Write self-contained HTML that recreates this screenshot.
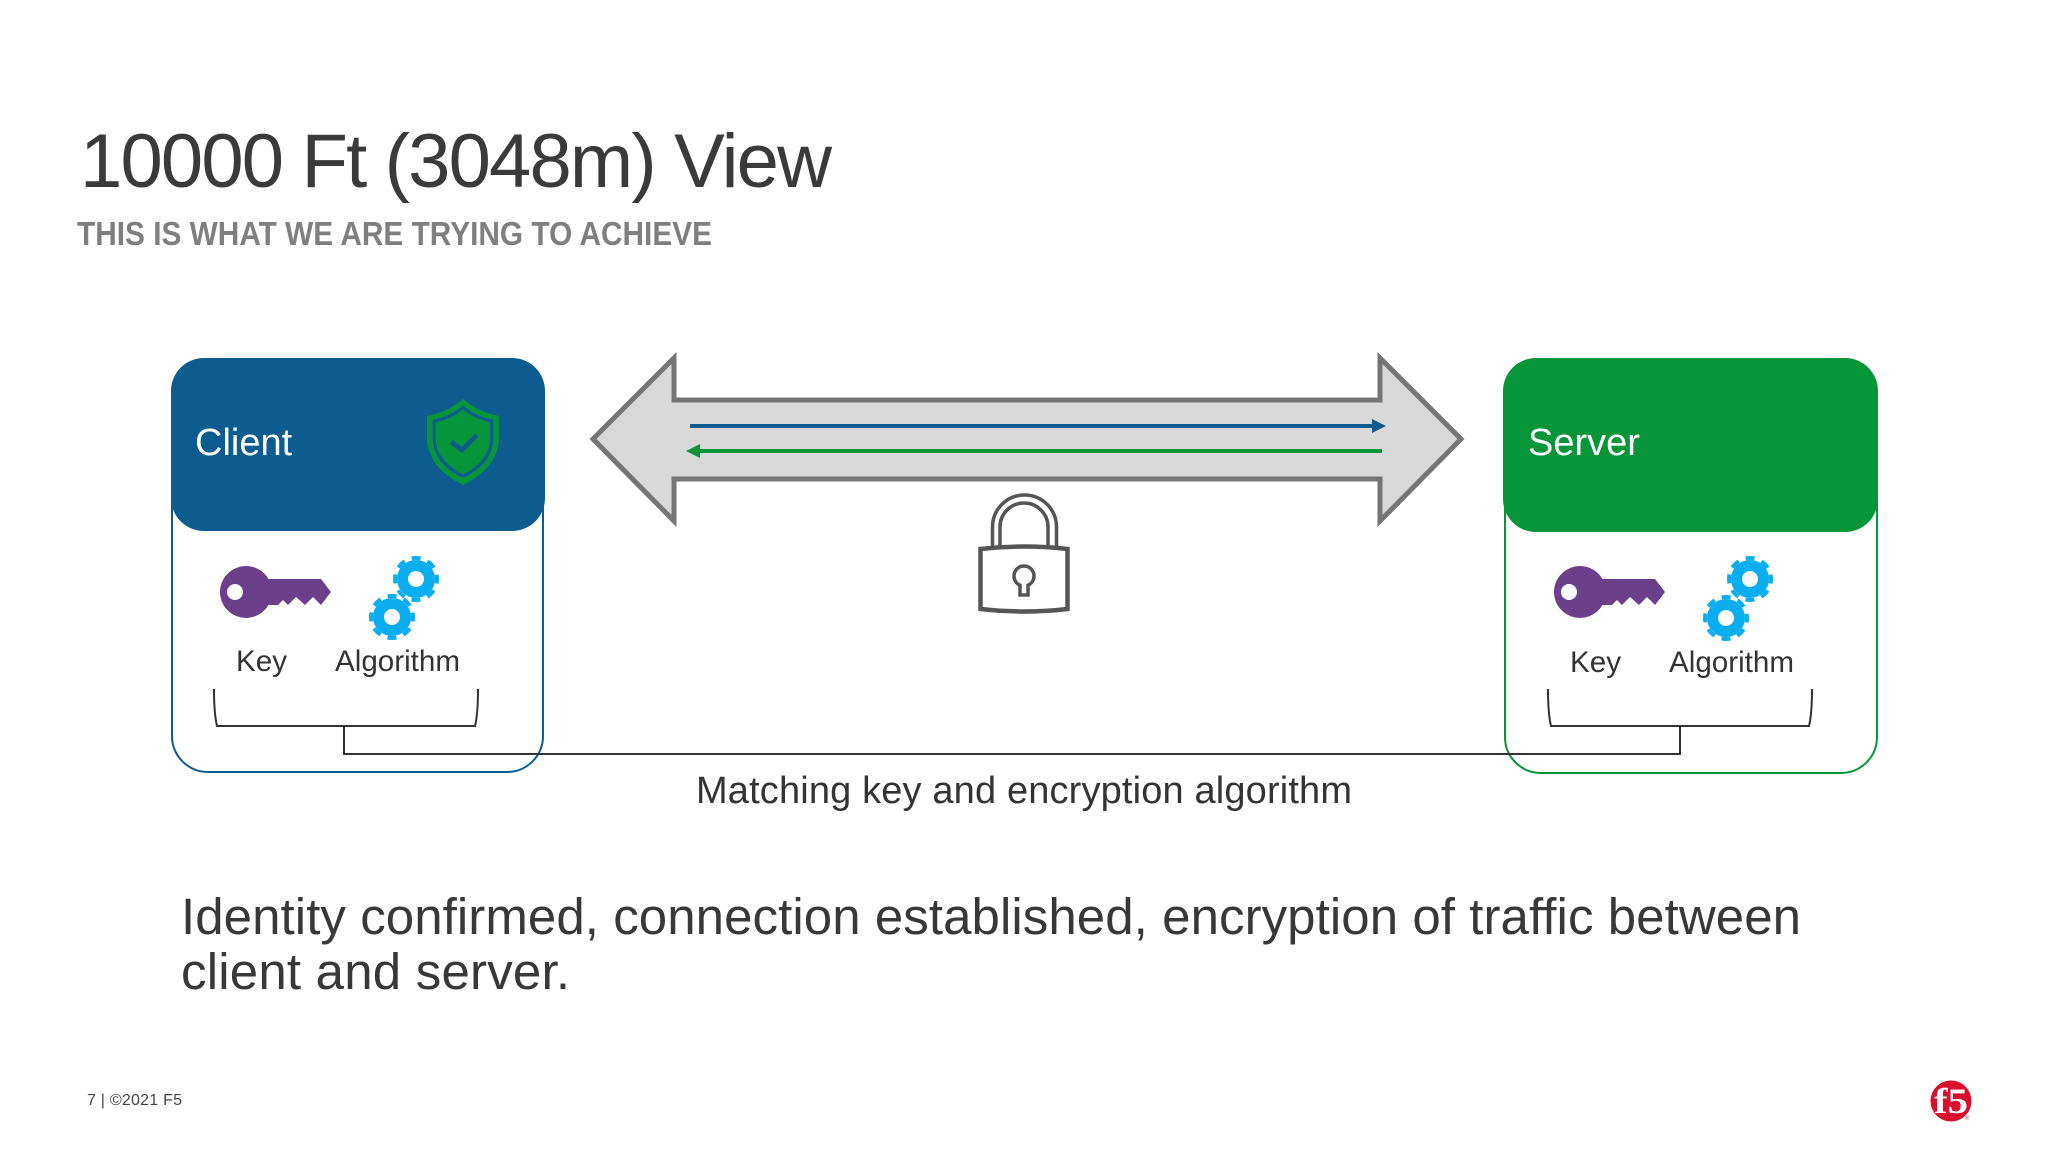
<!DOCTYPE html>
<html lang="en">
<head>
<meta charset="utf-8">
<title>10000 Ft (3048m) View</title>
<style>
html,body{margin:0;padding:0;background:#fff;width:2048px;height:1152px;overflow:hidden}
svg{display:block}
text{font-family:"Liberation Sans",Arial,sans-serif}
</style>
</head>
<body>
<svg xmlns="http://www.w3.org/2000/svg" width="2048" height="1152" viewBox="0 0 2048 1152">
<defs>
  <g id="gear">
    <circle r="13.500" fill="none" stroke="#0aaef0" stroke-width="11"/>
    <circle r="21" fill="none" stroke="#0aaef0" stroke-width="4" stroke-dasharray="9 7.490" stroke-dashoffset="4.500"/>
  </g>
  <g id="key">
    <path fill="#6b3f8a" fill-rule="evenodd" d="M246 566a26 26 0 0 1 22.500 13H321L331 592 321 605 313 597 305 605 296 597 288 605 283 600 278 605H268.500A26 26 0 1 1 246 566ZM235 584a8 8 0 1 0 0 16 8 8 0 0 0 0-16Z"/>
  </g>
  <path id="bracket" d="M214 689C214 705 215 718 217 726H475C477 718 478 705 478 689" fill="none" stroke="#333" stroke-width="2"/>
</defs>

<rect width="2048" height="1152" fill="#fff"/>

<!-- Title -->
<text x="80" y="187" font-size="76" fill="#3a3a3a" textLength="752" lengthAdjust="spacing">10000 Ft (3048m) View</text>
<text x="77" y="245" font-size="33" font-weight="700" fill="#7f7f7f" textLength="635" lengthAdjust="spacingAndGlyphs">THIS IS WHAT WE ARE TRYING TO ACHIEVE</text>

<!-- Client box -->
<rect x="172" y="400" width="371" height="372" rx="36" fill="#fff" stroke="#0c5c8f" stroke-width="2"/>
<rect x="171" y="358" width="374" height="173" rx="33" fill="#0c5c8f"/>
<text x="195" y="455" font-size="38" fill="#fff">Client</text>
<path d="M463 399Q478 412 499 416V440Q497 468 463 485Q429 468 427 440V416Q448 412 463 399Z" fill="#07953a"/>
<path transform="translate(463 441) scale(.8) translate(-463 -441)" d="M463 399Q478 412 499 416V440Q497 468 463 485Q429 468 427 440V416Q448 412 463 399Z" fill="#07953a" stroke="#0c5c8f" stroke-width="4"/>
<path d="M451 442L462 450 477 435" fill="none" stroke="#0c5c8f" stroke-width="4.500"/>
<use href="#key"/>
<use href="#gear" x="416" y="579"/>
<use href="#gear" x="392" y="617"/>
<text x="236" y="671" font-size="29.600" fill="#333">Key</text>
<text x="335" y="671" font-size="29.600" fill="#333">Algorithm</text>
<use href="#bracket"/>

<!-- Server box -->
<rect x="1510" y="400" width="372" height="373" rx="36" fill="#fff" stroke="#07953a" stroke-width="2" transform="translate(-5 0)"/>
<rect x="1503" y="358" width="375" height="174" rx="33" fill="#07953a"/>
<text x="1528" y="455" font-size="38" fill="#fff">Server</text>
<g transform="translate(1334 0)">
  <use href="#key"/>
  <use href="#gear" x="416" y="579"/>
  <use href="#gear" x="392" y="618"/>
  <text x="236" y="672" font-size="29.600" fill="#333">Key</text>
  <text x="335" y="672" font-size="29.600" fill="#333">Algorithm</text>
  <use href="#bracket"/>
</g>

<!-- Connector -->
<path d="M344 726V754H1680V726" fill="none" stroke="#333" stroke-width="2"/>

<!-- Double arrow -->
<path d="M593 439L674 358V400H1380V358L1461 439L1380 521V479H674V521Z" fill="#d9d9d9" stroke="#757575" stroke-width="5"/>
<rect x="690" y="424" width="682" height="4" fill="#0c5c8f"/>
<path d="M1372 419L1386 426 1372 433Z" fill="#0c5c8f"/>
<rect x="698" y="449" width="684" height="4" fill="#07953a"/>
<path d="M700 444L686 451 700 458Z" fill="#07953a"/>

<!-- Lock -->
<g fill="none" stroke="#555" stroke-width="3.500">
  <path d="M992.500 547V527A32 32 0 0 1 1056.500 527V547"/>
  <path d="M1000 547V527A24 24 0 0 1 1048 527V547"/>
  <path d="M980.500 549Q1024 544 1067.500 549V609Q1024 614 980.500 609Z" fill="#fff" stroke-width="4.500"/>
  <path d="M1020 585.200A10 10 0 1 1 1028 585.200V595H1020Z" fill="#fff"/>
</g>

<!-- Caption -->
<text x="696" y="803" font-size="38" fill="#333" textLength="656" lengthAdjust="spacing">Matching key and encryption algorithm</text>

<!-- Body -->
<text x="181" y="934" font-size="51" fill="#383838" textLength="1620" lengthAdjust="spacing">Identity confirmed, connection established, encryption of traffic between</text>
<text x="181" y="989" font-size="51" fill="#383838" textLength="389" lengthAdjust="spacing">client and server.</text>

<!-- Footer -->
<text x="87" y="1105" font-size="16" fill="#444" textLength="95" lengthAdjust="spacing">7 | ©2021 F5</text>

<!-- Logo -->
<circle cx="1951" cy="1101" r="20.500" fill="#d8102e"/>
<text x="1934" y="1113" font-size="36" font-weight="700" fill="#fff" style="font-family:'Liberation Serif',serif" textLength="34" lengthAdjust="spacingAndGlyphs">f5</text>
<text x="1965" y="1120" font-size="6" fill="#b04050">®</text>
</svg>
</body>
</html>
